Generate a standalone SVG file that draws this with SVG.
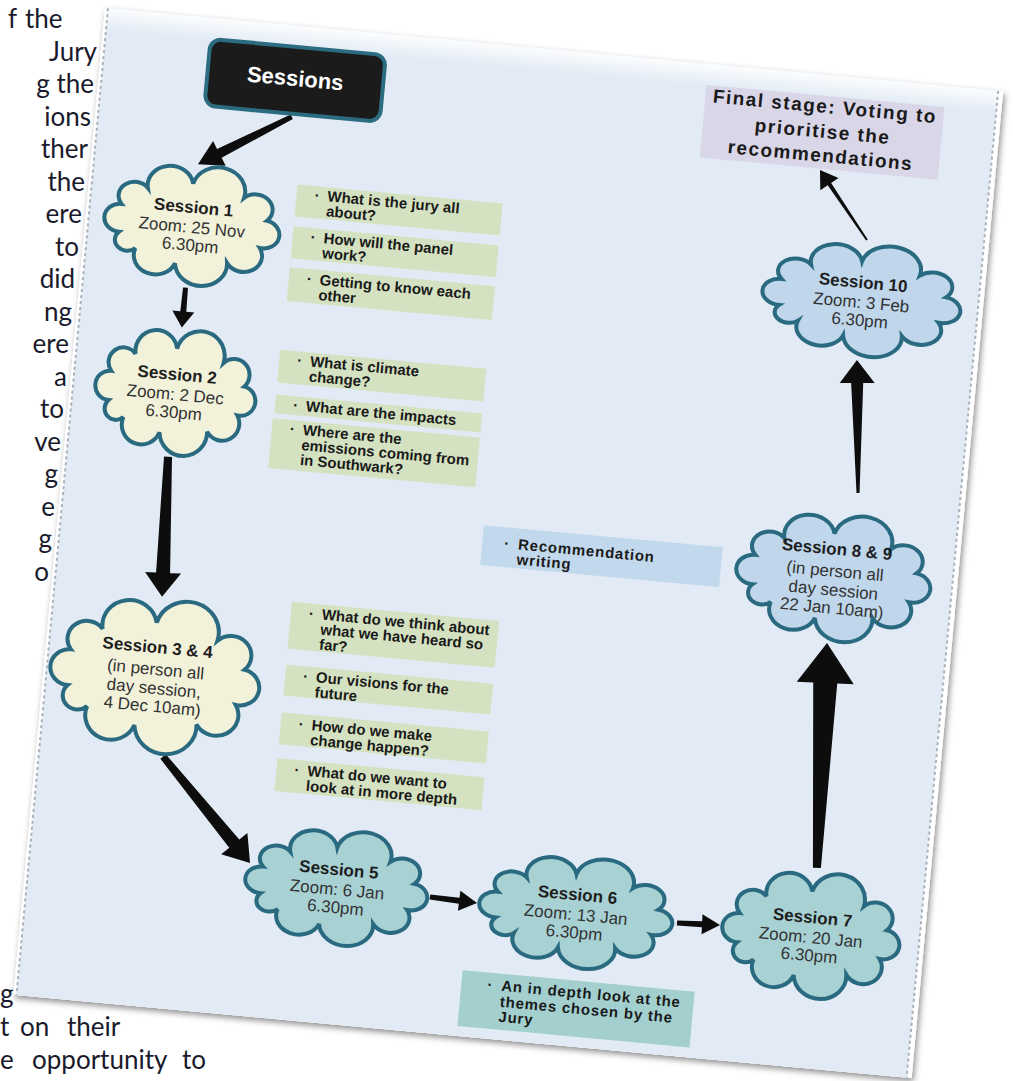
<svg xmlns="http://www.w3.org/2000/svg" width="1013" height="1081" viewBox="0 0 1013 1081">
<defs>
<style>
.doc{font-family:Lato,"Open Sans",sans-serif;font-size:26px;fill:#1a1a2c}
.cloud{stroke:#2a6a80;stroke-width:4}
.cream{fill:#f2f1da}
.teal{fill:#a7d1d3}
.blue{fill:#bfd6eb}
.t1{font-family:"Liberation Sans",Arial,sans-serif;font-size:17px;font-weight:bold;fill:#1e1e1e;text-anchor:middle}
.t2{font-family:"Liberation Sans",Arial,sans-serif;font-size:17px;fill:#333;text-anchor:middle}
.bx{font-family:"Liberation Sans",Arial,sans-serif;font-size:15px;font-weight:bold;fill:#1a1a1a}
.sp{letter-spacing:0.8px}
.green{fill:#d5e2c1}
.arrow{fill:#0d0d0d}
.fs{font-family:"Liberation Sans",Arial,sans-serif;font-size:19px;font-weight:bold;fill:#1a1a1a;text-anchor:middle;letter-spacing:1.5px}
</style>
<path id="cloud" vector-effect="non-scaling-stroke" d="M-80.8,17.8A1,1 0 0 1-80.8,-17.8A1,1 0 0 1-53,-41A1,1 0 0 1-3,-52A1,1 0 0 1 55.3,-39.8A1,1 0 0 1 83.1,-13.5A1,1 0 0 1 77.9,22A1,1 0 0 1 43,45A1,1 0 0 1-15,51.2A1,1 0 0 1-60.8,36.8A1,1 0 0 1-80.8,17.8Z"/>
<filter id="shadow" x="-5%" y="-5%" width="110%" height="110%">
<feDropShadow dx="2" dy="3" stdDeviation="3" flood-color="#000" flood-opacity="0.45"/>
</filter>
<linearGradient id="topfade" x1="0" y1="0" x2="0" y2="1">
<stop offset="0" stop-color="#fff" stop-opacity="0.9"/>
<stop offset="1" stop-color="#fff" stop-opacity="0"/>
</linearGradient>
</defs>
<rect width="1013" height="1081" fill="#fff"/>
<g id="document-text" class="doc">
<text y="28"><tspan x="8">f</tspan><tspan x="25">the</tspan></text>
<text x="97" y="60.5" text-anchor="end">Jury</text>
<text x="94" y="93" text-anchor="end">g the</text>
<text x="91" y="125.5" text-anchor="end">ions</text>
<text x="88" y="158" text-anchor="end">ther</text>
<text x="85" y="190.5" text-anchor="end">the</text>
<text x="82" y="223" text-anchor="end">ere</text>
<text x="79" y="255.5" text-anchor="end">to</text>
<text x="75" y="288" text-anchor="end">did</text>
<text x="72" y="320.5" text-anchor="end">ng</text>
<text x="69" y="353" text-anchor="end">ere</text>
<text x="67" y="385.5" text-anchor="end">a</text>
<text x="64" y="418" text-anchor="end">to</text>
<text x="61" y="450.5" text-anchor="end">ve</text>
<text x="58" y="483" text-anchor="end">g</text>
<text x="55" y="515.5" text-anchor="end">e</text>
<text x="52" y="548" text-anchor="end">g</text>
<text x="49" y="580.5" text-anchor="end">o</text>
<text x="0" y="1003">g</text>
<text y="1036"><tspan x="0">t</tspan><tspan x="20">on</tspan><tspan x="67">their</tspan></text>
<text y="1069"><tspan x="0">e</tspan><tspan x="32">opportunity</tspan><tspan x="182">to</tspan></text>
</g>
<g transform="translate(105,8) rotate(5.3)">
<g id="page">
<rect width="902" height="991" fill="#fff" filter="url(#shadow)"/>
<rect x="3" width="894" height="991" fill="#e2ebf5"/>
<rect width="902" height="22" fill="url(#topfade)"/>
<line x1="3" y1="0" x2="3" y2="991" stroke="#a9b1b9" stroke-width="2" stroke-dasharray="3 3"/>
<line x1="897" y1="0" x2="897" y2="991" stroke="#a9b1b9" stroke-width="2" stroke-dasharray="3 3"/>
</g>
<g id="connectors" class="arrow">
<polygon points="194.7,88.9 124.6,130 119.9,122.4 107,147 134.7,146 130,138.4 197.3,93.1"/>
<polygon points="103.5,271 103,295 95,295 106,311 117,295 109,295 108.5,271"/>
<polygon points="100.2,441.2 103,557.3 92,557.9 111.2,581 128,556.1 117,556.7 108.2,440.8"/>
<polygon points="124.5,742.5 201.3,824.7 193.8,832 223.4,837.9 218,808.2 210.5,815.5 129.5,737.5"/>
<polygon points="405.6,857.7 435,859.2 434.8,866.2 453.1,856.8 435.4,846.2 435.2,853.2 405.8,852.7"/>
<polygon points="654.2,860.8 679.2,860.1 679.6,867.1 697.1,856.3 678.6,847.1 679,854.1 654,855.8"/>
<polygon points="792.3,790.3 791.5,604.9 808,604.1 777.6,565.6 751,606.9 767.5,606.1 784.3,790.7"/>
<polygon points="796.1,413.2 789.6,303.3 801,302.2 781.3,281 766.2,305.6 777.6,304.5 793.1,413.5"/>
<polygon points="780.9,160 739.2,107.2 746.1,101.5 726.9,95.3 729.1,115.5 736,109.8 779.3,161.2"/>
</g>
<g id="sessions">
<rect x="108" y="21" width="176" height="67" rx="11" fill="#1b1b1b" stroke="#2b6c80" stroke-width="4"/>
<text x="196" y="60" font-family="Liberation Sans, Arial, sans-serif" font-size="22" font-weight="bold" fill="#fff" text-anchor="middle">Sessions</text>
</g>
<g id="session-1">
<use href="#cloud" class="cloud cream" transform="translate(106.7,207.5) scale(0.893,0.784)"/>
<text class="t1" x="106.7" y="196">Session 1</text>
<text class="t2" x="106.7" y="216">Zoom: 25 Nov</text>
<text class="t2" x="106.7" y="234">6.30pm</text>
</g>
<g id="session-1-topics">
<rect class="green" x="208" y="158" width="206" height="32"/>
<rect class="green" x="208" y="200" width="206" height="32"/>
<rect class="green" x="208" y="241" width="206" height="34"/>
<text class="bx"><tspan x="226" y="172">·</tspan><tspan x="239" y="172">What is the jury all</tspan><tspan x="239" y="187">about?</tspan></text>
<text class="bx"><tspan x="226" y="214">·</tspan><tspan x="239" y="214">How will the panel</tspan><tspan x="239" y="229">work?</tspan></text>
<text class="bx"><tspan x="226" y="256">·</tspan><tspan x="239" y="256">Getting to know each</tspan><tspan x="239" y="271">other</tspan></text>
</g>
<g id="session-2">
<use href="#cloud" class="cloud cream" transform="translate(105.7,375.3) scale(0.817,0.824)"/>
<text class="t1" x="105.7" y="364">Session 2</text>
<text class="t2" x="105.7" y="384">Zoom: 2 Dec</text>
<text class="t2" x="105.7" y="402">6.30pm</text>
</g>
<g id="session-2-topics">
<rect class="green" x="206" y="324" width="207" height="33"/>
<rect class="green" x="206" y="369" width="207" height="19"/>
<rect class="green" x="205" y="393" width="208" height="50"/>
<text class="bx"><tspan x="224" y="338">·</tspan><tspan x="237" y="338">What is climate</tspan><tspan x="237" y="353">change?</tspan></text>
<text class="bx"><tspan x="224" y="383">·</tspan><tspan x="237" y="383">What are the impacts</tspan></text>
<text class="bx"><tspan x="223" y="407">·</tspan><tspan x="236" y="407">Where are the</tspan><tspan x="236" y="422">emissions coming from</tspan><tspan x="236" y="437">in Southwark?</tspan></text>
</g>
<g id="session-3-4">
<use href="#cloud" class="cloud cream" transform="translate(111.5,659.7) scale(1.066,1.007)"/>
<text class="t1" x="111.5" y="637.5">Session 3 &amp; 4</text>
<text class="t2" x="111.5" y="659.5">(in person all</text>
<text class="t2" x="111.5" y="678.5">day session,</text>
<text class="t2" x="111.5" y="696.5">4 Dec 10am)</text>
</g>
<g id="session-3-4-topics">
<rect class="green" x="241" y="574" width="208" height="47"/>
<rect class="green" x="241" y="637" width="208" height="31"/>
<rect class="green" x="241" y="685" width="208" height="32"/>
<rect class="green" x="241" y="731" width="208" height="33"/>
<text class="bx"><tspan x="259" y="589">·</tspan><tspan x="272" y="589">What do we think about</tspan><tspan x="272" y="604">what we have heard so</tspan><tspan x="272" y="619">far?</tspan></text>
<text class="bx"><tspan x="259" y="652">·</tspan><tspan x="272" y="652">Our visions for the</tspan><tspan x="272" y="667">future</tspan></text>
<text class="bx"><tspan x="259" y="700">·</tspan><tspan x="272" y="700">How do we make</tspan><tspan x="272" y="715">change happen?</tspan></text>
<text class="bx"><tspan x="259" y="746">·</tspan><tspan x="272" y="746">What do we want to</tspan><tspan x="272" y="761">look at in more depth</tspan></text>
</g>
<g id="session-5">
<use href="#cloud" class="cloud teal" transform="translate(311.7,853.7) scale(0.929,0.752)"/>
<text class="t1" x="312.5" y="842">Session 5</text>
<text class="t2" x="312.5" y="862">Zoom: 6 Jan</text>
<text class="t2" x="312.5" y="880">6.30pm</text>
</g>
<g id="session-6">
<use href="#cloud" class="cloud teal" transform="translate(552.5,856.5) scale(0.985,0.725)"/>
<text class="t1" x="552.5" y="845">Session 6</text>
<text class="t2" x="552.5" y="865">Zoom: 13 Jan</text>
<text class="t2" x="552.5" y="883">6.30pm</text>
</g>
<g id="session-6-topics">
<rect x="445" y="925" width="233" height="56" fill="#a3d0cf"/>
<text class="bx sp"><tspan x="471" y="942">·</tspan><tspan x="485" y="942">An in depth look at the</tspan><tspan x="485" y="958">themes chosen by the</tspan><tspan x="485" y="973">Jury</tspan></text>
</g>
<g id="session-7">
<use href="#cloud" class="cloud teal" transform="translate(788.6,857.2) scale(0.904,0.824)"/>
<text class="t1" x="788.6" y="846">Session 7</text>
<text class="t2" x="788.6" y="866">Zoom: 20 Jan</text>
<text class="t2" x="788.6" y="884">6.30pm</text>
</g>
<g id="session-8-9">
<use href="#cloud" class="cloud blue" transform="translate(778,499.2) scale(0.99,0.83)"/>
<text class="t1" x="779" y="477">Session 8 &amp; 9</text>
<text class="t2" x="779" y="499">(in person all</text>
<text class="t2" x="779" y="518">day session</text>
<text class="t2" x="779" y="536">22 Jan 10am)</text>
</g>
<g id="recommendation">
<rect x="425" y="480" width="240" height="40" fill="#c2d8ec"/>
<text class="bx" font-size="16" letter-spacing="0.8"><tspan x="447" y="501">·</tspan><tspan x="461" y="501">Recommendation</tspan><tspan x="461" y="516">writing</tspan></text>
</g>
<g id="session-10">
<use href="#cloud" class="cloud blue" transform="translate(780.3,220.3) scale(1.01,0.732)"/>
<text class="t1" x="780.3" y="209">Session 10</text>
<text class="t2" x="780.3" y="229">Zoom: 3 Feb</text>
<text class="t2" x="780.3" y="247">6.30pm</text>
</g>
<g id="final-stage">
<rect x="606" y="21" width="239" height="73" fill="#d9d6e8"/>
<text class="fs" x="726" y="38">Final stage: Voting to</text>
<text class="fs" x="726" y="63">prioritise the</text>
<text class="fs" x="726" y="87">recommendations</text>
</g>
</g>
</svg>
